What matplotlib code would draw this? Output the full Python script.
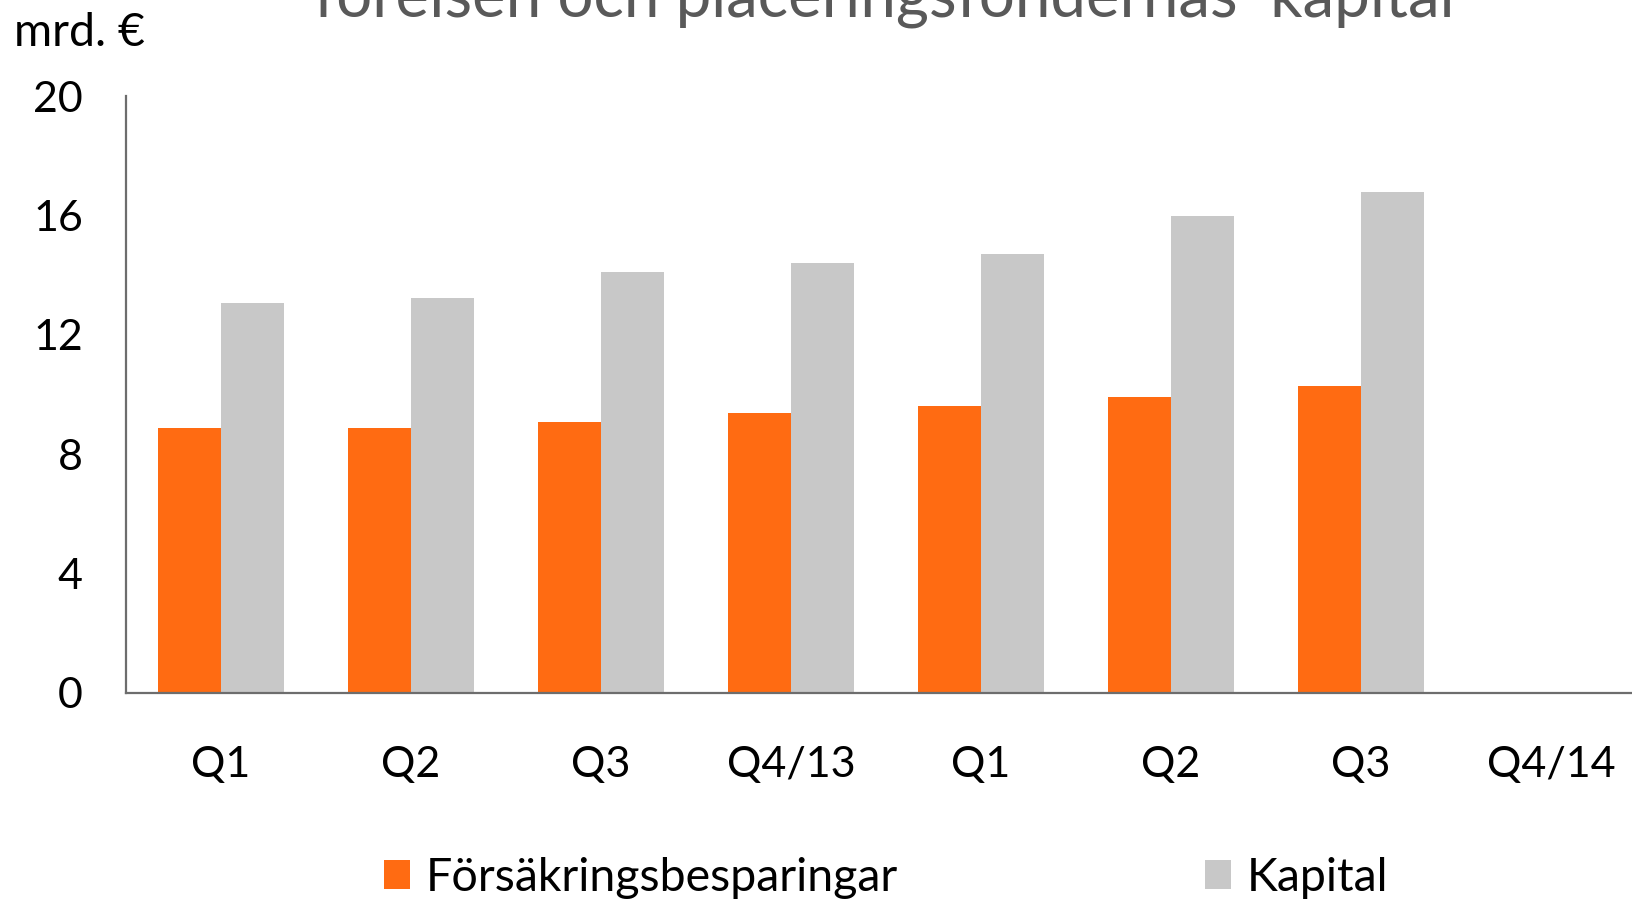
import numpy as np
import matplotlib
matplotlib.use('Agg')
import matplotlib.pyplot as plt

plt.rcParams['font.family'] = ['Lato', 'DejaVu Sans']

# datos (mrd. €)
kvartal = ['Q1', 'Q2', 'Q3', 'Q4/13', 'Q1', 'Q2', 'Q3', 'Q4/14']
besparingar = [8.87, 8.87, 9.08, 9.39, 9.60, 9.91, 10.30, np.nan]
kapital = [13.08, 13.22, 14.09, 14.40, 14.71, 15.97, 16.77, np.nan]

orange = '#FF6B12'
gray = '#C8C8C8'

fig = plt.figure(figsize=(16.32, 9.02), dpi=100)
ax = fig.add_axes([126 / 1632, 1 - 693 / 902, 1520 / 1632, 597 / 902])

x = np.arange(len(kvartal))
w = 0.334
b1 = ax.bar(x - w / 2, besparingar, w, color=orange)
b2 = ax.bar(x + w / 2, kapital, w, color=gray)

ax.set_xlim(-0.5, len(kvartal) - 0.5)
ax.set_ylim(0, 20)
ax.set_yticks([0, 4, 8, 12, 16, 20])
ax.set_xticks(x)
ax.set_xticklabels(kvartal)
ax.tick_params(axis='both', length=0, labelsize=31, colors='black')
ax.tick_params(axis='x', pad=38)
ax.tick_params(axis='y', pad=31)

for s in ['top', 'right']:
    ax.spines[s].set_visible(False)
for s in ['left', 'bottom']:
    ax.spines[s].set_color('#6d6d6d')
    ax.spines[s].set_linewidth(1.6)

# titulo cortado arriba como en el original
fig.text(0.542, 1.0 - 17 / 902, 'föreisen och placeringsfondernas  kapital',
         ha='center', va='baseline', fontsize=45.8, color='#595959')
fig.text(14 / 1632, 1 - 33 / 902, 'mrd. €', ha='left', va='center', fontsize=33.5)

# leyenda
fig.legend(handles=[b1, b2],
           labels=['Försäkringsbesparingar', 'Kapital'],
           loc='center', bbox_to_anchor=(0.543, 1 - 878 / 902), ncol=2,
           frameon=False, fontsize=33.5, handlelength=0.56, handleheight=0.56,
           handletextpad=0.33, columnspacing=6.6)

fig.savefig('out.png', dpi=100)
